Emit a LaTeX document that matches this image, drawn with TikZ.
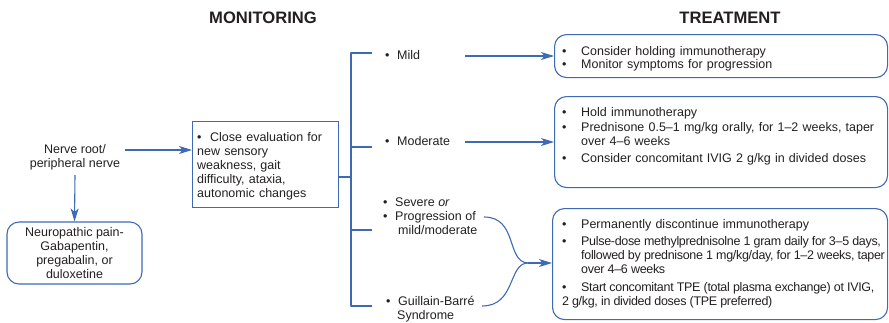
\documentclass[tikz,border=0pt]{standalone}
\usepackage{fontspec}
\setmainfont{Liberation Sans}
\usetikzlibrary{arrows.meta}
\definecolor{lineblue}{RGB}{62,106,180}
\definecolor{ink}{RGB}{35,31,32}
% bullet item with hanging indent of width \bw
\newlength\bw
\newcommand{\bi}[1]{\par\noindent\hangindent=\bw\hangafter=1\makebox[\bw][l]{\strut\textbullet}#1}
% extra space between two bullet items
\newcommand{\bgap}[1]{\par\vskip#1\relax}
% slightly tighter setting for the longest lines
\newcommand{\tight}{\addfontfeatures{LetterSpace=-2.5}\spaceskip=0.25em\relax}
\begin{document}
\begin{tikzpicture}[x=1pt,y=-1pt,
  every node/.style={text=ink, inner sep=0pt},
  txt/.style={font=\fontsize{12.5}{14}\selectfont},
  head/.style={font=\fontsize{16.6}{18}\selectfont\bfseries},
  conn/.style={draw=lineblue, line width=1.1pt, line join=round},
  arr/.style={conn, -{Stealth[length=13pt,width=8pt,inset=3.5pt]}},
  sbox/.style={draw=lineblue, line width=1.1pt},
  rbox/.style={sbox, rounded corners=12pt},
]
\useasboundingbox (0,0) rectangle (889,322);

% column headings
\node[head] (hmon) at (263,18) {MONITORING};
\node[head] (htr) at (730,18) {TREATMENT};

% left part
\node[txt, align=center, anchor=north] (nerve) at (75,143.4) {\strut Nerve root/\\peripheral nerve};
\node[rbox, txt, align=center, minimum width=135pt, minimum height=62pt] (neuro) at (74.5,253)
  {Neuropathic pain-\\Gabapentin,\\pregabalin, or\\duloxetine};
\node[sbox, anchor=north west, minimum width=146pt, minimum height=86pt] (mon) at (192,121) {};
\node[txt, anchor=north west, text width=135pt, align=left] (montxt) at (197,127.6)
  {\setlength\bw{13pt}\bi{Close evaluation for\newline new sensory\newline weakness, gait\newline difficulty, ataxia,\newline autonomic changes}};

% severity grades
\node[txt, anchor=base west] (mild) at (385,59.2) {\makebox[12pt][l]{\textbullet}Mild};
\node[txt, anchor=base west] (moderate) at (385,145.2) {\makebox[12pt][l]{\textbullet}Moderate};
\node[txt, anchor=north west, align=left] (severe) at (383,196.2)
  {\strut\makebox[12pt][l]{\textbullet}Severe \textit{or}\\\makebox[12pt][l]{\textbullet}Progression of\\\hspace*{15pt}mild/moderate};
\node[txt, anchor=north west, align=left] (gbs) at (386,295.4)
  {\strut\makebox[12pt][l]{\textbullet}Guillain-Barré\\\hspace*{11pt}Syndrome};

% treatment boxes
\node[rbox, anchor=north west, minimum width=333pt, minimum height=43pt] (t1) at (554,34) {};
\node[rbox, anchor=north west, minimum width=333pt, minimum height=91pt] (t2) at (554,96) {};
\node[rbox, anchor=north west, minimum width=335pt, minimum height=111pt] (t3) at (552,208) {};

\node[txt, anchor=north west, text width=330pt, align=left] (t1txt) at (561.8,41.6)
  {\setlength\bw{19.2pt}\bi{Consider holding immunotherapy}\bgap{-1pt}\bi{Monitor symptoms for progression}};
\node[txt, anchor=north west, text width=330pt, align=left] (t2txt) at (561.8,102.6)
  {\setlength\bw{19.2pt}%
   \bi{Hold immunotherapy}\bgap{1pt}%
   \bi{Prednisone 0.5–1 mg/kg orally, for 1–2 weeks, taper\newline over 4–6 weeks}\bgap{3pt}%
   \bi{Consider concomitant IVIG 2 g/kg in divided doses}};
\node[txt, anchor=north west, text width=330pt, align=left] (t3txt) at (561.8,214.6)
  {\setlength\bw{19.2pt}%
   \bi{Permanently discontinue immunotherapy}\bgap{3pt}%
   \bi{{\tight Pulse-dose methylprednisolne 1 gram daily for 3–5 days,\newline followed by prednisone 1 mg/kg/day, for 1–2 weeks, taper\newline over 4–6 weeks}}\bgap{4pt}%
   \bi{{\tight Start concomitant TPE (total plasma exchange) ot IVIG,\newline 2 g/kg, in divided doses (TPE preferred)}}};

% connectors
\coordinate (nerveout) at (125,150);
\draw[arr] (nerveout) -- (nerveout -| mon.west);
\draw[arr] ([yshift=-5pt]nerve.south) -- (neuro.north);

\coordinate (spine) at (351,177);
\coordinate (tmild) at (372,53);
\coordinate (tmod) at (372,147);
\coordinate (tsev) at (372,230);
\coordinate (tgbs) at (372,306);
\draw[conn] (spine -| mon.east) -- (spine);
\draw[conn] (tmild) -| (spine) |- (tgbs);
\draw[conn] (tmod) -- (tmod -| spine);
\draw[conn] (tsev) -- (tsev -| spine);

\coordinate (mildout) at (465,56);
\coordinate (modout) at (465,142);
\draw[arr] (mildout) -- (mildout -| t1.west);
\draw[arr] (modout) -- (modout -| t2.west);

\coordinate (pout) at (484,217);
\coordinate (gout) at (482,306);
\coordinate (join) at (528,263);
\draw[conn] (pout) .. controls (518,217) and (506,262) .. (join);
\draw[conn] (gout) .. controls (516,306) and (508,263) .. (join);
\draw[arr] (join) -- (join -| t3.west);
\end{tikzpicture}
\end{document}
